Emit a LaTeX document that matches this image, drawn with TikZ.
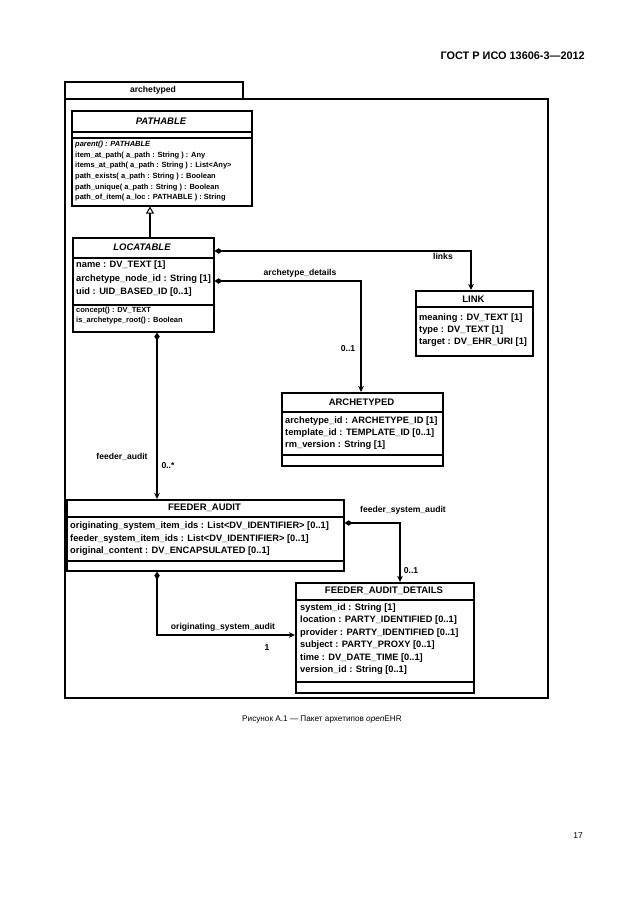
\documentclass[tikz,border=0pt]{standalone}
\usepackage{fontspec}
\setmainfont{Liberation Sans}
\usetikzlibrary{arrows.meta}
\begin{document}
\begin{tikzpicture}[x=1pt,y=-1pt,
  box/.style={draw,line width=1.6pt,inner sep=0pt,anchor=north west},
  sepl/.style={line width=1.1pt},
  attr/.style={anchor=west,inner sep=0pt,font=\fontsize{9.3}{10}\selectfont\bfseries},
  oper/.style={anchor=west,inner sep=0pt,font=\fontsize{7.5}{8}\selectfont\bfseries},
  ttl/.style={inner sep=0pt,font=\fontsize{9.5}{10}\selectfont\bfseries},
  lbl/.style={inner sep=0pt,font=\fontsize{8.6}{9}\selectfont\bfseries},
  conn/.style={line width=1.3pt},
  comp/.style={conn,{Diamond[length=8pt,width=5.5pt]}-{Stealth[length=6pt,width=5.5pt,inset=1.5pt]}},
  gen/.style={conn,-{Triangle[open,length=7pt,width=8pt,line width=1pt]}}]
\useasboundingbox (0,0) rectangle (630,913);
% header, caption, page number
\node[anchor=east,inner sep=0pt,font=\fontsize{10.9}{12}\selectfont\bfseries] (hdr) at (585,56) {ГОСТ Р ИСО 13606-3—2012};
\node[inner sep=0pt,font=\fontsize{8.2}{10}\selectfont] (cap) at (322,720) {Рисунок А.1 — Пакет архетипов \textit{open}EHR};
\node[anchor=east,inner sep=0pt,font=\fontsize{8.5}{10}\selectfont] (pg) at (583,836) {17};
% package
\node[box,line width=1.8pt,minimum width=178pt,minimum height=17pt] (tab) at (64,81) {};
\node[ttl,font=\fontsize{8.6}{9}\selectfont\bfseries] (tabt) at (153,90) {archetyped};
\node[box,line width=1.8pt,minimum width=483pt,minimum height=599pt] (pkg) at (64,98) {};
% PATHABLE
\node[box,minimum width=180pt,minimum height=95pt] (path) at (71,110) {};
\draw[sepl] (71,132) -- (251,132);
\draw[sepl] (71,138) -- (251,138);
\node[ttl,font=\fontsize{9.5}{10}\selectfont\bfseries\itshape] (patht) at (161,121) {PATHABLE};
\node[oper,font=\fontsize{7.5}{8}\selectfont\bfseries\itshape] (p1) at (75,144.5) {parent() : PATHABLE};
\node[oper] (p2) at (75,155.2) {item\_at\_path( a\_path : String ) : Any};
\node[oper] (p3) at (75,165.9) {items\_at\_path( a\_path : String ) : List<Any>};
\node[oper] (p4) at (75,176.6) {path\_exists( a\_path : String ) : Boolean};
\node[oper] (p5) at (75,187.3) {path\_unique( a\_path : String ) : Boolean};
\node[oper] (p6) at (75,198) {path\_of\_item( a\_loc : PATHABLE ) : String};
% LOCATABLE
\node[box,minimum width=141pt,minimum height=94pt] (loc) at (72,237) {};
\draw[sepl] (72,258) -- (213,258);
\draw[sepl] (72,305) -- (213,305);
\node[ttl,font=\fontsize{9.5}{10}\selectfont\bfseries\itshape] (loct) at (142,247.5) {LOCATABLE};
\node[attr] (l1) at (76,265) {name : DV\_TEXT [1]};
\node[attr] (l2) at (76,279) {archetype\_node\_id : String [1]};
\node[attr] (l3) at (76,292.5) {uid : UID\_BASED\_ID [0..1]};
\node[oper] (l4) at (76,311) {concept() : DV\_TEXT};
\node[oper] (l5) at (76,320.5) {is\_archetype\_root() : Boolean};
% LINK
\node[box,minimum width=117pt,minimum height=65pt] (link) at (415,290) {};
\draw[sepl] (415,307) -- (532,307);
\node[ttl] (linkt) at (473.5,299) {LINK};
\node[attr] (k1) at (419,318) {meaning : DV\_TEXT [1]};
\node[attr] (k2) at (419,330) {type : DV\_TEXT [1]};
\node[attr] (k3) at (419,342) {target : DV\_EHR\_URI [1]};
% ARCHETYPED
\node[box,minimum width=161pt,minimum height=73pt] (arch) at (281,392) {};
\draw[sepl] (281,412) -- (442,412);
\draw[sepl] (281,455) -- (442,455);
\node[ttl] (archt) at (361.5,402) {ARCHETYPED};
\node[attr] (a1) at (285,421) {archetype\_id : ARCHETYPE\_ID [1]};
\node[attr] (a2) at (285,433) {template\_id : TEMPLATE\_ID [0..1]};
\node[attr] (a3) at (285,445) {rm\_version : String [1]};
% FEEDER_AUDIT
\node[box,minimum width=277pt,minimum height=71pt] (fa) at (66,499) {};
\draw[sepl] (66,517) -- (343,517);
\draw[sepl] (66,561) -- (343,561);
\node[ttl] (fat) at (204.5,508) {FEEDER\_AUDIT};
\node[attr] (f1) at (70,526.5) {originating\_system\_item\_ids : List<DV\_IDENTIFIER> [0..1]};
\node[attr] (f2) at (70,539) {feeder\_system\_item\_ids : List<DV\_IDENTIFIER> [0..1]};
\node[attr] (f3) at (70,551.5) {original\_content : DV\_ENCAPSULATED [0..1]};
% FEEDER_AUDIT_DETAILS
\node[box,minimum width=178pt,minimum height=110pt] (fad) at (295,582) {};
\draw[sepl] (295,600) -- (473,600);
\draw[sepl] (295,682) -- (473,682);
\node[ttl] (fadt) at (384,591) {FEEDER\_AUDIT\_DETAILS};
\node[attr] (d1) at (300,608) {system\_id : String [1]};
\node[attr] (d2) at (300,620.5) {location : PARTY\_IDENTIFIED [0..1]};
\node[attr] (d3) at (300,633) {provider : PARTY\_IDENTIFIED [0..1]};
\node[attr] (d4) at (300,645.5) {subject : PARTY\_PROXY [0..1]};
\node[attr] (d5) at (300,658) {time : DV\_DATE\_TIME [0..1]};
\node[attr] (d6) at (300,670.5) {version\_id : String [0..1]};
% connectors
\coordinate (g) at (150,0);
\draw[gen] (loc.north -| g) -- (path.south -| g);
\coordinate (c1) at (471,251);
\draw[comp] (loc.east |- c1) -- (c1) -- (c1 |- link.north);
\node[lbl,anchor=north] (lb1) at (443,253) {links};
\coordinate (c2) at (361,281);
\draw[comp] (loc.east |- c2) -- (c2) -- (c2 |- arch.north);
\node[lbl] (lb2) at (300,273) {archetype\_details};
\node[lbl] (lb3) at (348,349) {0..1};
\coordinate (c3) at (157,0);
\draw[comp] (loc.south -| c3) -- (fa.north -| c3);
\node[lbl] (lb4) at (122,457) {feeder\_audit};
\node[lbl] (lb5) at (168,466) {0..*};
\coordinate (c4) at (400,523);
\draw[comp] (fa.east |- c4) -- (c4) -- (c4 |- fad.north);
\node[lbl] (lb6) at (403,510) {feeder\_system\_audit};
\node[lbl] (lb7) at (411,571) {0..1};
\coordinate (c5) at (157,635);
\draw[comp] (fa.south -| c5) -- (c5) -- (c5 -| fad.west);
\node[lbl] (lb8) at (223,627) {originating\_system\_audit};
\node[lbl] (lb9) at (267,648) {1};
\end{tikzpicture}
\end{document}
